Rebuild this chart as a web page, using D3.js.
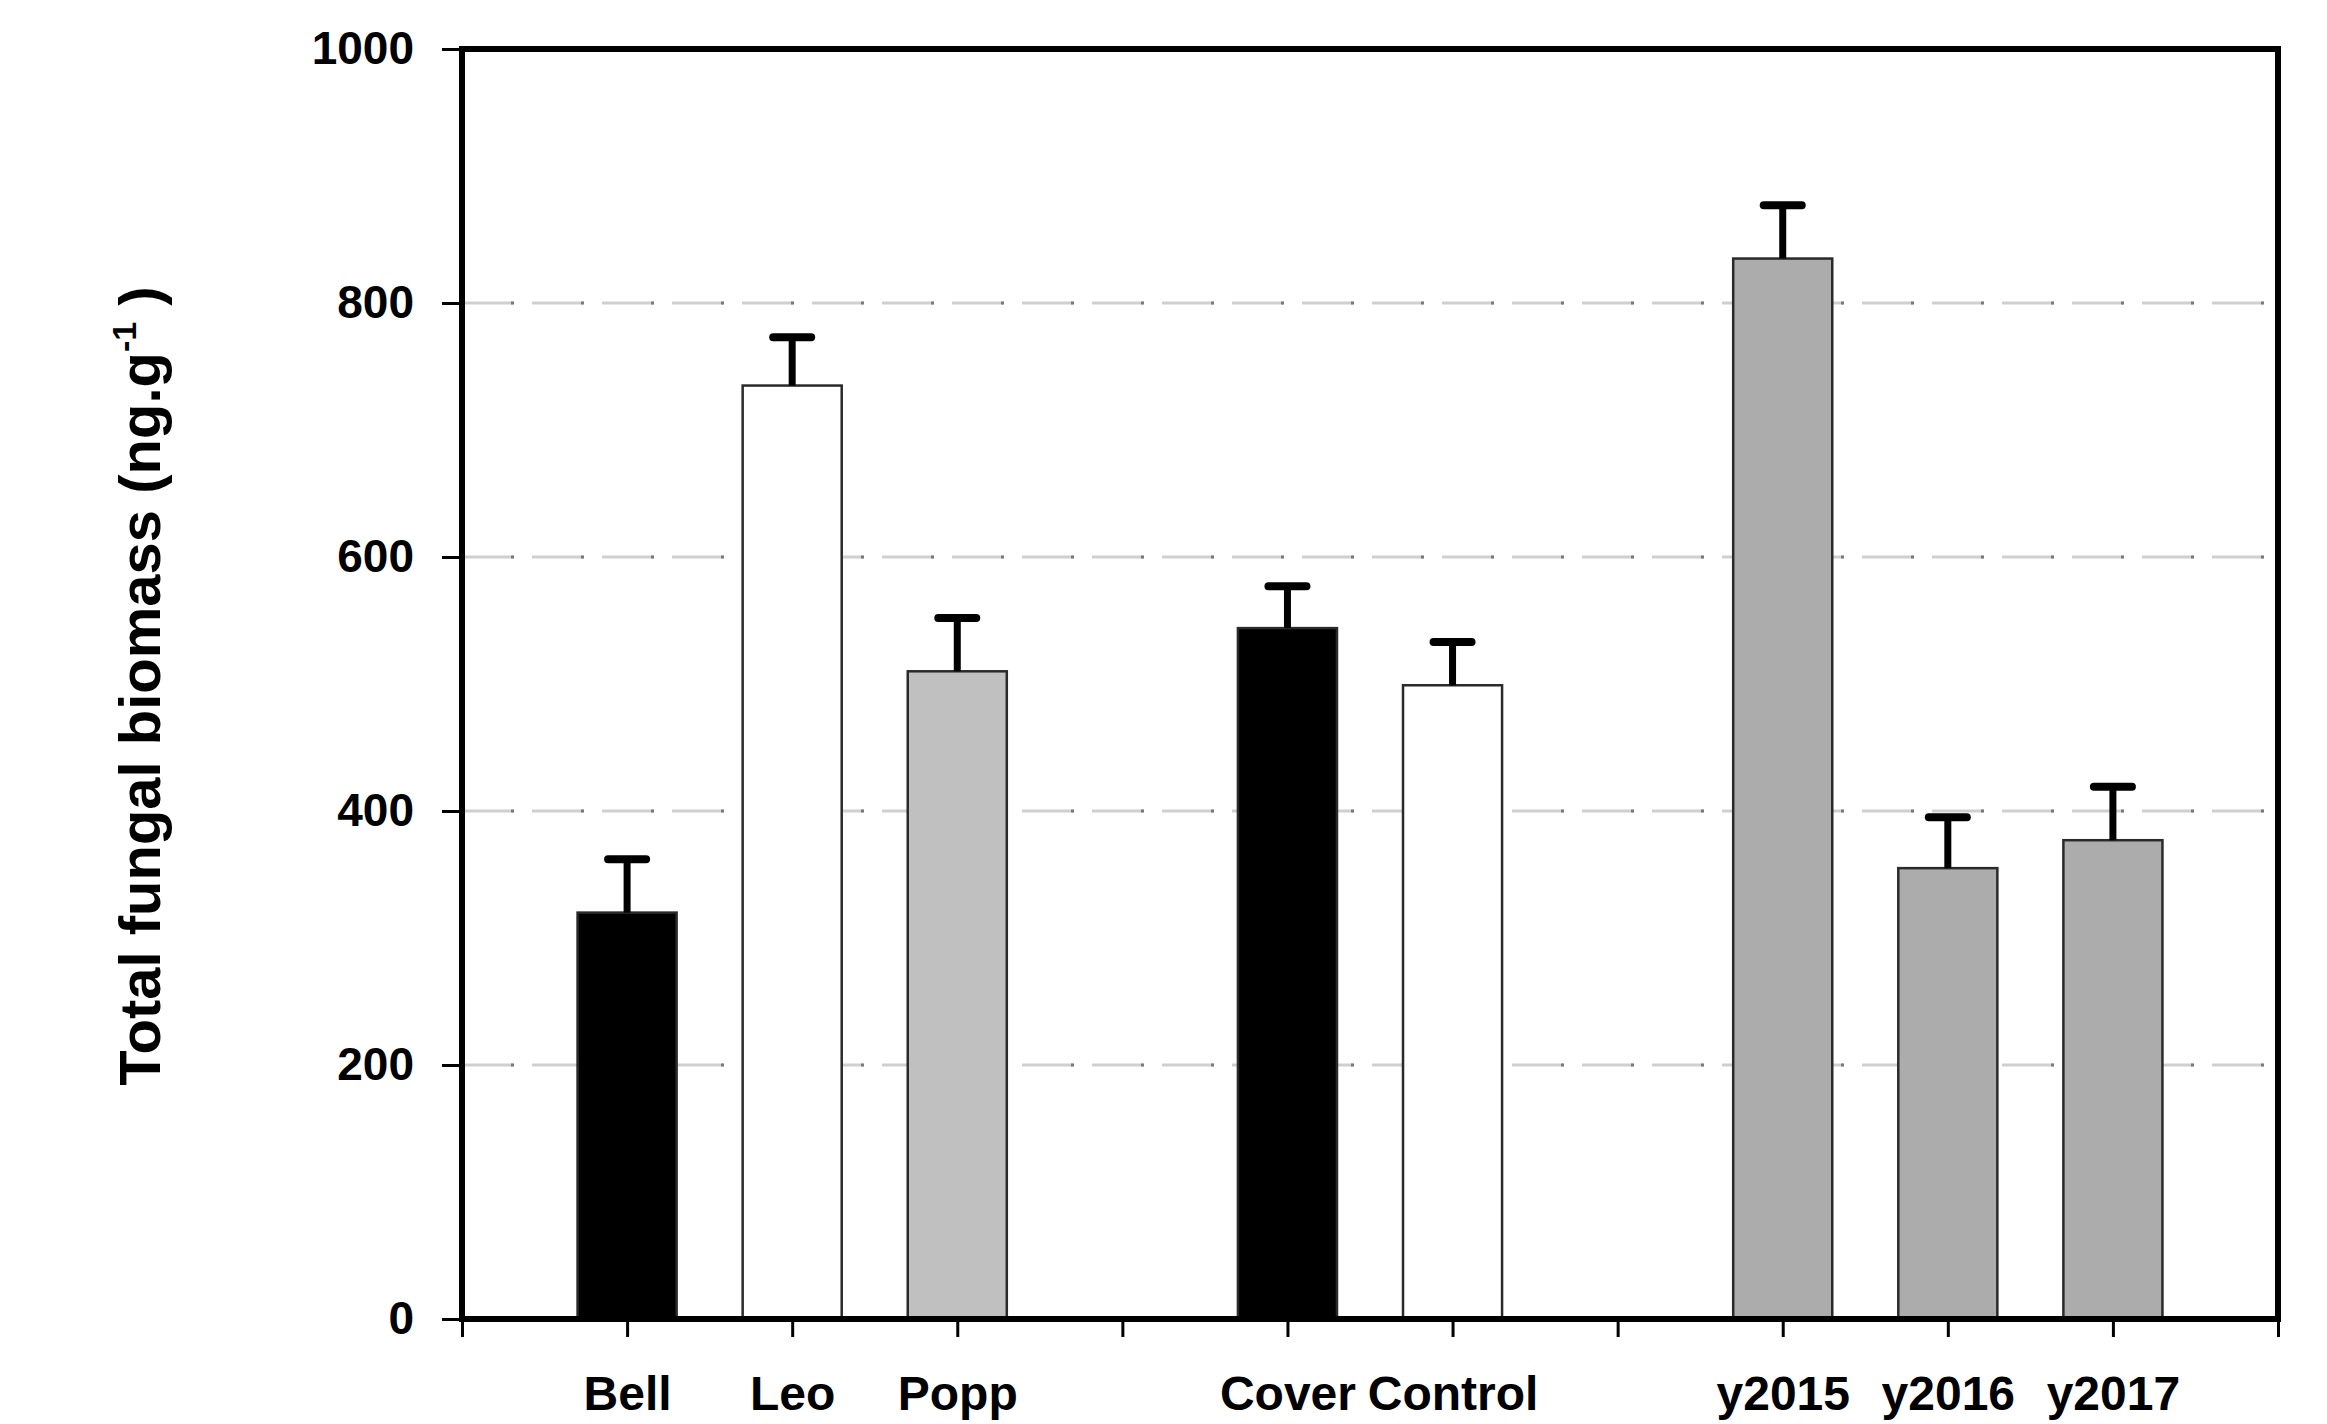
<!DOCTYPE html>
<html>
<head>
<meta charset="utf-8">
<script src="https://cdn.jsdelivr.net/npm/d3@7"></script>
<style>
  html, body { margin: 0; padding: 0; background: #fff; }
  svg { display: block; }
  text { font-family: "Liberation Sans", Arial, sans-serif; font-weight: bold; fill: #000; }
</style>
</head>
<body>
<div id="chart"></div>
<script>
// Chart data
const categories = ["Bell", "Leo", "Popp", "Cover", "Control", "y2015", "y2016", "y2017"];
const groups = ["cultivar", "cultivar", "cultivar", "cover", "cover", "year", "year", "year"];
const means = [320, 735, 510, 544, 499, 835, 355, 377];
const errors = [42, 38, 42, 33, 34, 42, 40, 42];
const yTicks = [0, 200, 400, 600, 800, 1000];
const yLabel = "Total fungal biomass (ng.g";

const width = 2327, height = 1424;
const margin = { left: 462, right: 49, top: 49, bottom: 105 };

// slot index of each bar: groups are separated by one empty slot
const slots = [];
let slot = 0;
categories.forEach((c, i) => {
  if (i > 0 && groups[i] !== groups[i - 1]) slot += 1;
  slot += 1;
  slots.push(slot);
});
const nSlots = slot + 1;

const fillOf = d3.scaleOrdinal()
  .domain(categories)
  .range(["#000000", "#ffffff", "#c0c0c0", "#000000", "#ffffff", "#acacac", "#acacac", "#acacac"]);

const svg = d3.select("#chart").append("svg")
  .attr("width", width)
  .attr("height", height);

const x = d3.scaleLinear()
  .domain([0, nSlots])
  .range([margin.left, width - margin.right]);

const y = d3.scaleLinear()
  .domain([0, 1000])
  .range([height - margin.bottom, margin.top]);

const slotWidth = x(1) - x(0);
const barWidth = slotWidth * 0.6;

// dashed grid lines
const grid = svg.append("g");
const gridVals = yTicks.filter(v => v > 0 && v < 1000);
grid.selectAll("line.dash")
  .data(gridVals)
  .join("line")
  .attr("class", "dash")
  .attr("x1", x(0)).attr("x2", x(nSlots))
  .attr("y1", d => y(d)).attr("y2", d => y(d))
  .attr("stroke", "#cfcfcf")
  .attr("stroke-width", 3)
  .attr("stroke-dasharray", "52,18");
grid.selectAll("line.dot")
  .data(gridVals)
  .join("line")
  .attr("class", "dot")
  .attr("x1", x(0)).attr("x2", x(nSlots))
  .attr("y1", d => y(d)).attr("y2", d => y(d))
  .attr("stroke", "#7a7a7a")
  .attr("stroke-width", 3)
  .attr("stroke-dasharray", "0,49,3,18");

// bars
svg.append("g")
  .selectAll("rect")
  .data(categories)
  .join("rect")
  .attr("x", (d, i) => x(slots[i]) - barWidth / 2)
  .attr("y", (d, i) => y(means[i]))
  .attr("width", barWidth)
  .attr("height", (d, i) => y(0) - y(means[i]))
  .attr("fill", d => fillOf(d))
  .attr("stroke", "#2a2a2a")
  .attr("stroke-width", 2.5);

// error bars (upper only)
const err = svg.append("g").attr("stroke", "#000").attr("stroke-linecap", "round");
err.selectAll("line.stem")
  .data(categories)
  .join("line")
  .attr("class", "stem")
  .attr("x1", (d, i) => x(slots[i])).attr("x2", (d, i) => x(slots[i]))
  .attr("y1", (d, i) => y(means[i])).attr("y2", (d, i) => y(means[i] + errors[i]))
  .attr("stroke-width", 7)
  .attr("stroke-linecap", "butt");
err.selectAll("line.cap")
  .data(categories)
  .join("line")
  .attr("class", "cap")
  .attr("x1", (d, i) => x(slots[i]) - 19).attr("x2", (d, i) => x(slots[i]) + 19)
  .attr("y1", (d, i) => y(means[i] + errors[i])).attr("y2", (d, i) => y(means[i] + errors[i]))
  .attr("stroke-width", 8);

// y axis
const yAxis = svg.append("g")
  .attr("transform", `translate(${margin.left},0)`)
  .call(d3.axisLeft(y).tickValues(yTicks).tickSize(20).tickPadding(28).tickFormat(d3.format("d")));
yAxis.select(".domain").remove();
yAxis.selectAll(".tick line").attr("stroke", "#000").attr("stroke-width", 3);
yAxis.selectAll(".tick text")
  .attr("font-size", 46)
  .style("font-family", "'Liberation Sans', Arial, sans-serif")
  .style("font-weight", "bold");

// x axis
const labelAt = {};
slots.forEach((s, i) => { labelAt[s] = categories[i]; });
const xAxis = svg.append("g")
  .attr("transform", `translate(0,${y(0)})`)
  .call(d3.axisBottom(x).tickValues(d3.range(0, nSlots + 1)).tickSize(18).tickPadding(39)
    .tickFormat(d => labelAt[d] || ""));
xAxis.select(".domain").remove();
xAxis.selectAll(".tick line").attr("stroke", "#000").attr("stroke-width", 3);
xAxis.selectAll(".tick text")
  .attr("font-size", 48)
  .style("font-family", "'Liberation Sans', Arial, sans-serif")
  .style("font-weight", "bold");

// frame
svg.append("rect")
  .attr("x", x(0)).attr("y", y(1000))
  .attr("width", x(nSlots) - x(0))
  .attr("height", y(0) - y(1000))
  .attr("fill", "none")
  .attr("stroke", "#000")
  .attr("stroke-width", 6);

// y axis title
const title = svg.append("text")
  .attr("transform", `translate(160,${(y(0) + y(1000)) / 2 + 2}) rotate(-90)`)
  .attr("text-anchor", "middle")
  .attr("font-size", 58);
title.append("tspan").text(yLabel);
title.append("tspan").attr("font-size", 34).attr("dy", -24).text("-1");
title.append("tspan").attr("dy", 24).text(" )");
</script>
</body>
</html>
